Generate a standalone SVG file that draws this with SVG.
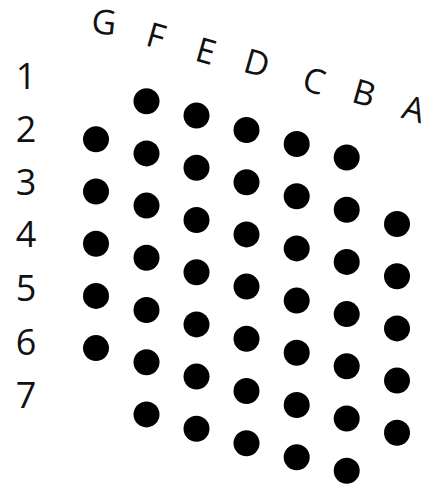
<svg xmlns="http://www.w3.org/2000/svg" width="429" height="488" viewBox="0 0 429 488">
<style>
.dot{fill:#000}
.lbl{font-family:"Open Sans","Liberation Sans",sans-serif;font-size:36px;fill:#111;text-anchor:middle}
.col{font-size:34px}
</style>
<rect width="429" height="488" fill="#fff"/>
<g id="row-labels">
<text class="lbl" x="26" y="89">1</text>
<text class="lbl" x="26" y="142">2</text>
<text class="lbl" x="26" y="195">3</text>
<text class="lbl" x="26" y="247">4</text>
<text class="lbl" x="26" y="301">5</text>
<text class="lbl" x="26" y="355">6</text>
<text class="lbl" x="26" y="408">7</text>
</g>
<g id="col-labels">
<text class="lbl col" transform="translate(104,22) rotate(6)" y="12">G</text>
<text class="lbl col" transform="translate(156,36) rotate(16)" y="12">F</text>
<text class="lbl col" transform="translate(206,51) rotate(16)" y="12">E</text>
<text class="lbl col" transform="translate(257,63) rotate(16)" y="12">D</text>
<text class="lbl col" transform="translate(314,81) rotate(16)" y="12">C</text>
<text class="lbl col" transform="translate(364,93) rotate(16)" y="12">B</text>
<text class="lbl col" transform="translate(414,109) rotate(16)" y="12">A</text>
</g>
<g id="col-G">
<circle class="dot" cx="96" cy="139.3" r="13"/>
<circle class="dot" cx="96" cy="191.5" r="13"/>
<circle class="dot" cx="96" cy="243.7" r="13"/>
<circle class="dot" cx="96" cy="295.9" r="13"/>
<circle class="dot" cx="96" cy="348.1" r="13"/>
</g>
<g id="col-F">
<circle class="dot" cx="146.5" cy="101.2" r="13"/>
<circle class="dot" cx="146.5" cy="153.4" r="13"/>
<circle class="dot" cx="146.5" cy="205.6" r="13"/>
<circle class="dot" cx="146.5" cy="257.8" r="13"/>
<circle class="dot" cx="146.5" cy="310" r="13"/>
<circle class="dot" cx="146.5" cy="362.2" r="13"/>
<circle class="dot" cx="146.5" cy="414.4" r="13"/>
</g>
<g id="col-E">
<circle class="dot" cx="196.5" cy="115.6" r="13"/>
<circle class="dot" cx="196.5" cy="167.8" r="13"/>
<circle class="dot" cx="196.5" cy="220" r="13"/>
<circle class="dot" cx="196.5" cy="272.2" r="13"/>
<circle class="dot" cx="196.5" cy="324.4" r="13"/>
<circle class="dot" cx="196.5" cy="376.6" r="13"/>
<circle class="dot" cx="196.5" cy="428.8" r="13"/>
</g>
<g id="col-D">
<circle class="dot" cx="246.5" cy="130" r="13"/>
<circle class="dot" cx="246.5" cy="182.2" r="13"/>
<circle class="dot" cx="246.5" cy="234.4" r="13"/>
<circle class="dot" cx="246.5" cy="286.6" r="13"/>
<circle class="dot" cx="246.5" cy="338.8" r="13"/>
<circle class="dot" cx="246.5" cy="391" r="13"/>
<circle class="dot" cx="246.5" cy="443.2" r="13"/>
</g>
<g id="col-C">
<circle class="dot" cx="296.7" cy="144" r="13"/>
<circle class="dot" cx="296.7" cy="196.2" r="13"/>
<circle class="dot" cx="296.7" cy="248.4" r="13"/>
<circle class="dot" cx="296.7" cy="300.6" r="13"/>
<circle class="dot" cx="296.7" cy="352.8" r="13"/>
<circle class="dot" cx="296.7" cy="405" r="13"/>
<circle class="dot" cx="296.7" cy="457.2" r="13"/>
</g>
<g id="col-B">
<circle class="dot" cx="346.7" cy="157.5" r="13"/>
<circle class="dot" cx="346.7" cy="209.7" r="13"/>
<circle class="dot" cx="346.7" cy="261.9" r="13"/>
<circle class="dot" cx="346.7" cy="314.1" r="13"/>
<circle class="dot" cx="346.7" cy="366.3" r="13"/>
<circle class="dot" cx="346.7" cy="418.5" r="13"/>
<circle class="dot" cx="346.7" cy="470.7" r="13"/>
</g>
<g id="col-A">
<circle class="dot" cx="397" cy="224" r="13"/>
<circle class="dot" cx="397" cy="276.2" r="13"/>
<circle class="dot" cx="397" cy="328.4" r="13"/>
<circle class="dot" cx="397" cy="380.6" r="13"/>
<circle class="dot" cx="397" cy="432.8" r="13"/>
</g>
<g id="connectors"/>
</svg>
